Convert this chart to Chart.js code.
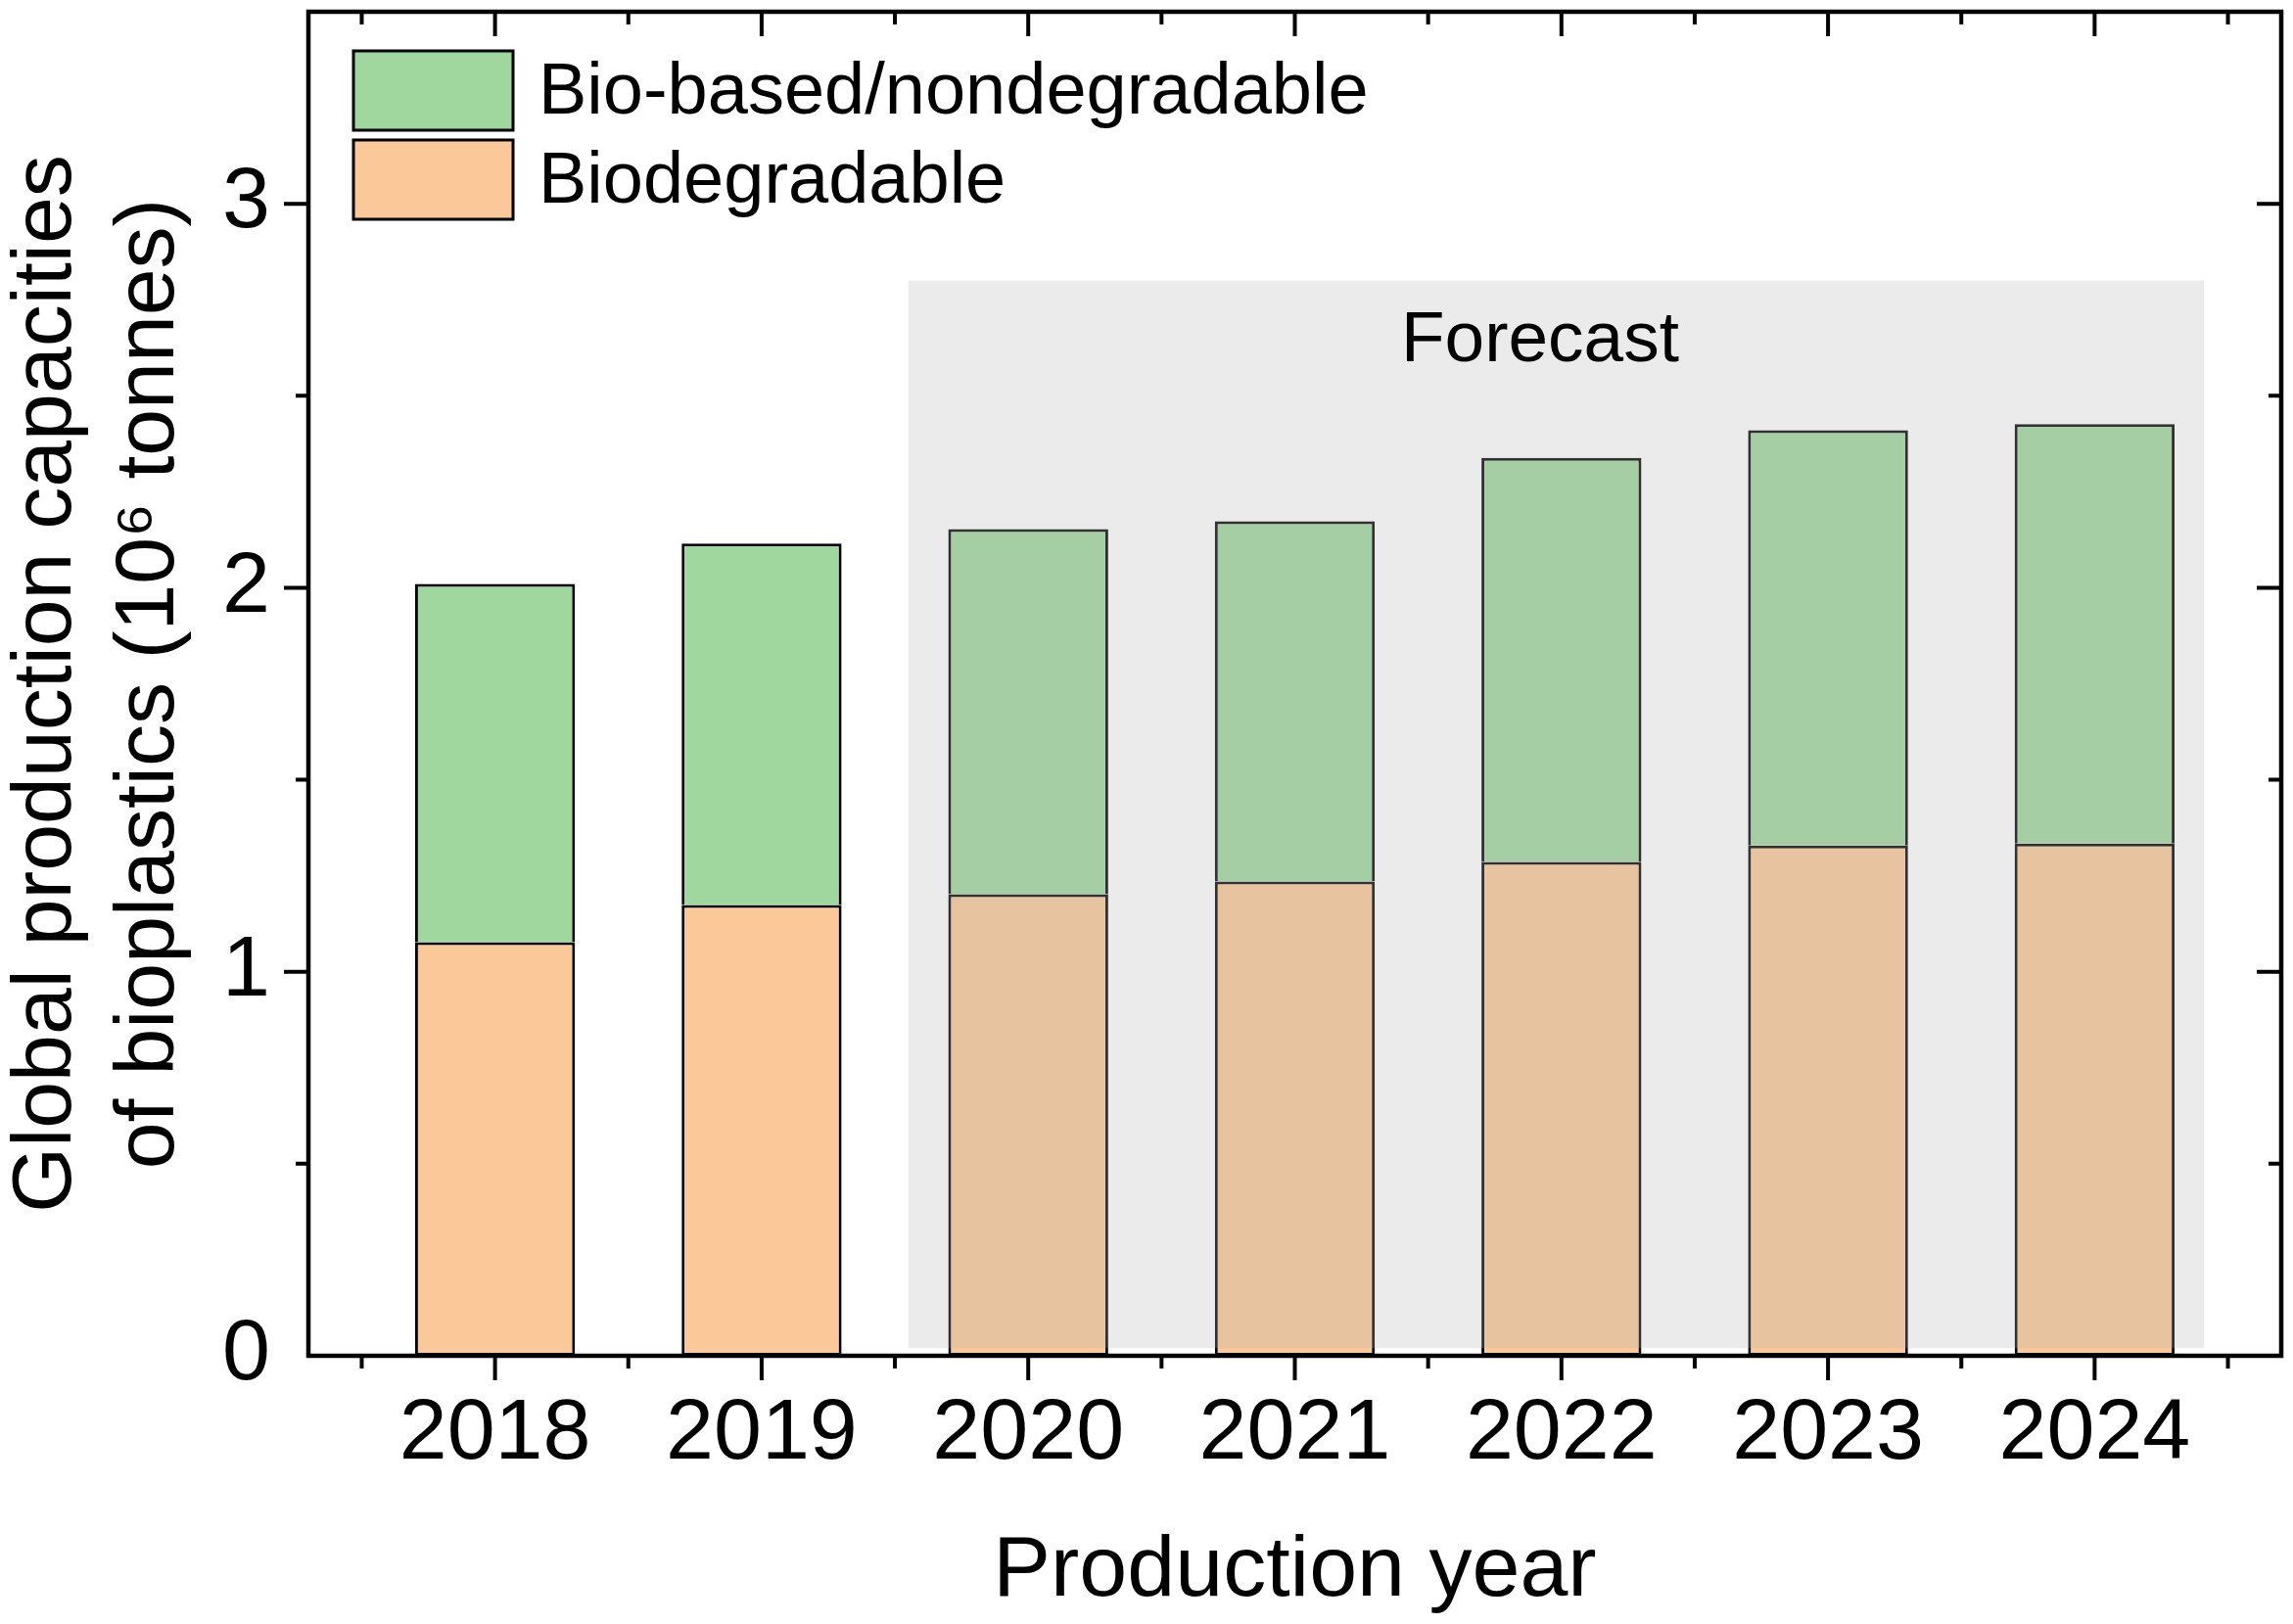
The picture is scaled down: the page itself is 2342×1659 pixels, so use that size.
<!DOCTYPE html>
<html>
<head>
<meta charset="utf-8">
<script src="https://cdn.jsdelivr.net/npm/chart.js@4.4.0/dist/chart.umd.min.js"></script>
<style>
html, body { margin: 0; padding: 0; background: #fff; }
canvas { display: block; }
</style>
</head>
<body>
<canvas id="bio_chart" width="2342" height="1659"></canvas>
<script>
// values (10^6 tonnes)
var years = [2018, 2019, 2020, 2021, 2022, 2023, 2024];
var biodegradable = [1.077, 1.174, 1.202, 1.235, 1.286, 1.329, 1.334];
var bioBased = [0.933, 0.941, 0.951, 0.938, 1.052, 1.081, 1.092];
var yTicks = [0, 1, 2, 3];

// forecast band (in data units)
var forecastX = [2019.55, 2024.41];
var forecastY = [0.02, 2.8];
var forecastText = 'Forecast';
var forecastTextAt = [2021.92, 2.64];

var FONT = "'Liberation Sans', Arial, sans-serif";

function toPoints(vals) {
	var pts = [];
	for (var i = 0; i < years.length; i++) {
		pts.push({x: years[i], y: vals[i]});
	}
	return pts;
}

// white background, forecast overlay, frame, ticks, legend
var extras = {
	id: 'extras',
	beforeDraw: function(chart) {
		var c = chart.ctx;
		c.save();
		c.fillStyle = '#fff';
		c.fillRect(0, 0, chart.width, chart.height);
		c.restore();
	},
	afterDatasetsDraw: function(chart) {
		var c = chart.ctx;
		var xs = chart.scales.x, ys = chart.scales.y;
		var x0 = xs.getPixelForValue(forecastX[0]);
		var x1 = xs.getPixelForValue(forecastX[1]);
		var y0 = ys.getPixelForValue(forecastY[1]);
		var y1 = ys.getPixelForValue(forecastY[0]);
		c.save();
		c.fillStyle = 'rgba(180,180,180,0.27)';
		c.fillRect(x0, y0, x1 - x0, y1 - y0);
		c.fillStyle = '#000';
		c.font = '73px ' + FONT;
		c.textAlign = 'center';
		c.textBaseline = 'middle';
		c.fillText(forecastText, xs.getPixelForValue(forecastTextAt[0]), ys.getPixelForValue(forecastTextAt[1]));
		c.restore();
	},
	afterDraw: function(chart) {
		var c = chart.ctx;
		var a = chart.chartArea;
		var xs = chart.scales.x, ys = chart.scales.y;
		var major = 23, minor = 11;
		c.save();
		c.strokeStyle = '#000';
		c.lineWidth = 4;
		c.beginPath();
		// x ticks: bottom outward, top inward
		for (var v = 2017.5; v <= 2024.5; v += 0.5) {
			var px = xs.getPixelForValue(v);
			var len = (v % 1 === 0) ? major : minor;
			c.moveTo(px, a.bottom); c.lineTo(px, a.bottom + len + 2);
			c.moveTo(px, a.top); c.lineTo(px, a.top + len + 2);
		}
		// y ticks: left outward, right inward
		for (var w = 0.5; w < 3.5; w += 0.5) {
			var py = ys.getPixelForValue(w);
			var l2 = (w % 1 === 0) ? major : minor;
			c.moveTo(a.left, py); c.lineTo(a.left - l2 - 2, py);
			c.moveTo(a.right, py); c.lineTo(a.right - l2 - 2, py);
		}
		c.stroke();
		// frame
		c.lineWidth = 4.5;
		c.strokeRect(a.left, a.top, a.right - a.left, a.bottom - a.top);

		// legend (top series first)
		var ds = chart.data.datasets.slice().reverse();
		var bx = 361, by = 52, bw = 163, bh = 81, gap = 10;
		c.font = '74px ' + FONT;
		c.textAlign = 'left';
		c.textBaseline = 'middle';
		for (var i = 0; i < ds.length; i++) {
			var yy = by + i * (bh + gap);
			c.fillStyle = ds[i].backgroundColor;
			c.fillRect(bx, yy, bw, bh);
			c.lineWidth = 3;
			c.strokeStyle = '#000';
			c.strokeRect(bx, yy, bw, bh);
			c.fillStyle = '#000';
			c.fillText(ds[i].label, bx + bw + 26, yy + bh / 2 + 3);
		}
		c.restore();
	}
};

var ctx = document.getElementById('bio_chart').getContext('2d');
var chart = new Chart(ctx, {
	type: 'bar',
	data: {
		datasets: [{
			label: 'Biodegradable',
			data: toPoints(biodegradable),
			backgroundColor: '#fbc899',
			borderColor: '#000',
			borderWidth: 3,
			borderSkipped: false
		}, {
			label: 'Bio-based/nondegradable',
			data: toPoints(bioBased),
			backgroundColor: '#9fd79e',
			borderColor: '#000',
			borderWidth: 3,
			borderSkipped: 'bottom'
		}]
	},
	options: {
		responsive: false,
		animation: false,
		devicePixelRatio: 1,
		categoryPercentage: 1,
		barPercentage: 0.6,
		layout: { padding: { top: 12, right: 12, left: 0, bottom: 0 } },
		plugins: {
			legend: { display: false },
			tooltip: { enabled: false }
		},
		scales: {
			x: {
				type: 'linear',
				stacked: true,
				offset: false,
				min: 2017.3,
				max: 2024.7,
				grid: { display: false, drawTicks: false, tickLength: 0 },
				border: { display: false },
				ticks: {
					stepSize: 1,
					includeBounds: false,
					autoSkip: false,
					maxRotation: 0,
					padding: 28,
					color: '#000',
					font: { family: FONT, size: 88 },
					callback: function(v) { return String(v); }
				},
				title: {
					display: true,
					text: 'Production year',
					color: '#000',
					font: { family: FONT, size: 88 },
					padding: { top: 0, bottom: 0 }
				},
				afterFit: function(s) {
					s.height = 274;
					s.paddingLeft = 0;
					s.paddingRight = 0;
				}
			},
			y: {
				stacked: true,
				min: 0,
				max: 3.5,
				grid: { display: false, drawTicks: false, tickLength: 0 },
				border: { display: false },
				afterBuildTicks: function(s) {
					s.ticks = yTicks.map(function(t) { return {value: t}; });
				},
				ticks: {
					padding: 39,
					color: '#000',
					font: { family: FONT, size: 88 }
				},
				title: {
					display: true,
					text: ['Global production capacities', 'of bioplastics (10\u2076 tonnes)'],
					color: '#000',
					font: { family: FONT, size: 86, lineHeight: 1.23 },
					padding: { top: -5, bottom: 0 }
				},
				afterFit: function(s) {
					s.width = 315;
					s.paddingTop = 0;
					s.paddingBottom = 0;
				}
			}
		}
	},
	plugins: [extras]
});
</script>
</body>
</html>
